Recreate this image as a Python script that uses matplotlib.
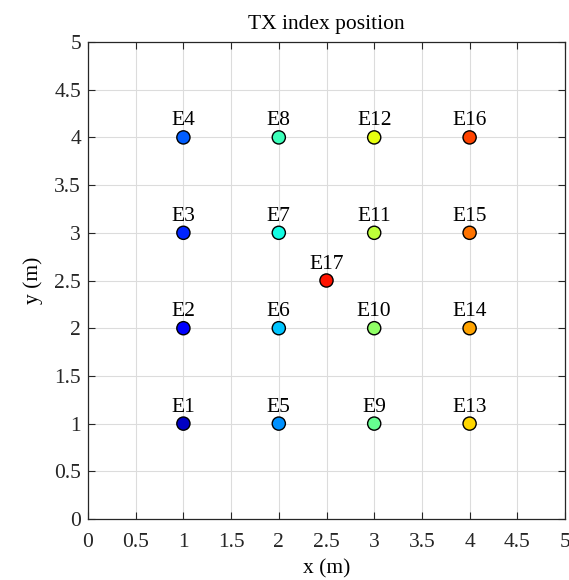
import numpy as np
import matplotlib
matplotlib.use("Agg")
import matplotlib.pyplot as plt

# TX positions (m)
names = [f"E{i}" for i in range(1, 18)]
xs = [1, 1, 1, 1, 2, 2, 2, 2, 3, 3, 3, 3, 4, 4, 4, 4, 2.5]
ys = [1, 2, 3, 4, 1, 2, 3, 4, 1, 2, 3, 4, 1, 2, 3, 4, 2.5]
ticks = [0, 0.5, 1, 1.5, 2, 2.5, 3, 3.5, 4, 4.5, 5]
tick_labels = ["0", "0.5", "1", "1.5", "2", "2.5", "3", "3.5", "4", "4.5", "5"]

plt.rcParams["font.family"] = ["Liberation Serif", "DejaVu Serif"]
fs = 15.5

fig = plt.figure(figsize=(5.69, 5.80), dpi=100)
ax = fig.add_axes([88 / 569, 1 - 519 / 580, (565 - 88) / 569, (519 - 42) / 580])

colors = plt.cm.jet(np.linspace(0.06, 0.89, len(xs)))
ax.scatter(xs, ys, s=90, c=colors, edgecolors="black", linewidths=1.0, zorder=3)
for n, x, y in zip(names, xs, ys):
    ax.annotate(n, (x, y), xytext=(0, 5), textcoords="offset points",
                ha="center", va="bottom", fontsize=fs, color="black")

ax.set_xlim(0, 5)
ax.set_ylim(0, 5)
ax.set_xticks(ticks)
ax.set_xticklabels(tick_labels)
ax.set_yticks(ticks)
ax.set_yticklabels(tick_labels)
ax.grid(True, color="#dcdcdc", linewidth=0.8)
ax.set_axisbelow(True)
ax.tick_params(direction="in", top=True, right=True, length=5, colors="#262626",
               labelsize=fs)
ax.tick_params(axis="x", pad=10)
ax.tick_params(axis="y", pad=5)
for s in ax.spines.values():
    s.set_color("#262626")
    s.set_linewidth(0.9)
ax.set_xlabel("x (m)", fontsize=fs, labelpad=5)
ax.set_ylabel("y (m)", fontsize=fs, labelpad=8)
ax.set_title("TX index position", fontsize=fs, pad=9)

fig.savefig("out.png", dpi=100)
